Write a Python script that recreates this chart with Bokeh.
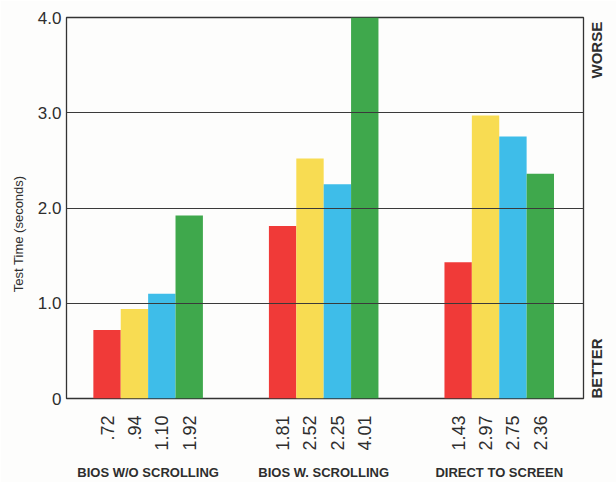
import math
from bokeh.plotting import figure
from bokeh.models import Range1d, FixedTicker, LinearAxis, Grid
from bokeh.embed import file_html
from bokeh.resources import INLINE

# ---- data ----
groups = ["BIOS W/O SCROLLING", "BIOS W. SCROLLING", "DIRECT TO SCREEN"]
red_times = [0.72, 1.81, 1.43]
yellow_times = [0.94, 2.52, 2.97]
cyan_times = [1.10, 2.25, 2.75]
green_times = [1.92, 4.01, 2.36]
y_ticks = [0, 1, 2, 3, 4]
y_tick_labels = ["0", "1.0", "2.0", "3.0", "4.0"]
scale_labels = ["BETTER", "WORSE"]
y_axis_title = "Test Time (seconds)"

# ---- styling / layout ----
series = [red_times, yellow_times, cyan_times, green_times]
colors = ["#f03a38", "#f8dc52", "#3ebde9", "#3fa84c"]
GROUP_STEP = 1000
offsets = [-234, -78, 78, 234]
BAR_W = 156
X_START, X_END = 535, 3480
scale_positions = [0.0, 3.36]     # where each rotated word starts
title_position = 2.34             # where the rotated y title ends
FONT = "Liberation Sans"
INK = "#2e2e2e"
BG = "#fdfdfc"
UP = math.pi / 2

p = figure(width=616, height=482,
           x_range=Range1d(X_START, X_END), y_range=Range1d(0, 4),
           x_axis_type=None, y_axis_type=None,
           output_backend="svg", toolbar_location=None,
           min_border_left=66, min_border_right=31,
           min_border_top=17, min_border_bottom=83,
           background_fill_color=BG, border_fill_color=BG)
p.outline_line_color = "#333333"
p.outline_line_width = 1.3

# bars
value_ticks = []
value_labels = {}
for s, (vals, col) in enumerate(zip(series, colors)):
    xs = [(g + 1) * GROUP_STEP + offsets[s] for g in range(len(groups))]
    p.vbar(x=xs, top=vals, bottom=0, width=BAR_W, fill_color=col, line_color=None)
    for x, v in zip(xs, vals):
        value_ticks.append(x)
        value_labels[x] = f"{v:.2f}".lstrip("0")

# horizontal grid lines drawn over the bars
grid = Grid(dimension=1, ticker=FixedTicker(ticks=y_ticks[1:-1]),
            grid_line_color="#3a3a3a", grid_line_width=1.1, level="overlay")
p.add_layout(grid)

def plain(axis):
    axis.axis_line_color = None
    axis.major_tick_line_color = None
    axis.minor_tick_line_color = None
    axis.major_tick_out = 0
    axis.major_tick_in = 0
    axis.minor_tick_out = 0
    axis.minor_tick_in = 0
    axis.major_label_text_font = FONT
    axis.major_label_text_color = INK
    return axis

# value labels under every bar
vax = plain(LinearAxis(ticker=FixedTicker(ticks=sorted(value_ticks)),
                       major_label_overrides=value_labels))
vax.major_label_orientation = UP
vax.major_label_text_font_size = "18px"
vax.major_label_standoff = 17
p.add_layout(vax, "below")

# group names
gax = plain(LinearAxis(ticker=FixedTicker(ticks=[(g + 1) * GROUP_STEP for g in range(len(groups))]),
                       major_label_overrides={(g + 1) * GROUP_STEP: name for g, name in enumerate(groups)}))
gax.major_label_text_font_size = "13px"
gax.major_label_text_font_style = "bold"
gax.major_label_standoff = 11
p.add_layout(gax, "below")

# y axis
yax = plain(LinearAxis(ticker=FixedTicker(ticks=y_ticks),
                       major_label_overrides=dict(zip(y_ticks, y_tick_labels))))
yax.major_label_text_font_size = "17px"
yax.major_label_standoff = 5
p.add_layout(yax, "left")

# y title (as a rotated label on an outer axis)
tax = plain(LinearAxis(ticker=FixedTicker(ticks=[title_position]),
                       major_label_overrides={title_position: y_axis_title}))
tax.major_label_orientation = UP
tax.major_label_text_font_size = "13px"
tax.major_label_standoff = 16
p.add_layout(tax, "left")

# better / worse
rax = plain(LinearAxis(ticker=FixedTicker(ticks=scale_positions),
                       major_label_overrides=dict(zip(scale_positions, scale_labels))))
rax.major_label_orientation = UP
rax.major_label_text_font_size = "15px"
rax.major_label_text_font_style = "bold"
rax.major_label_standoff = 13
p.add_layout(rax, "right")

open("out.html", "w").write(file_html(p, INLINE))
